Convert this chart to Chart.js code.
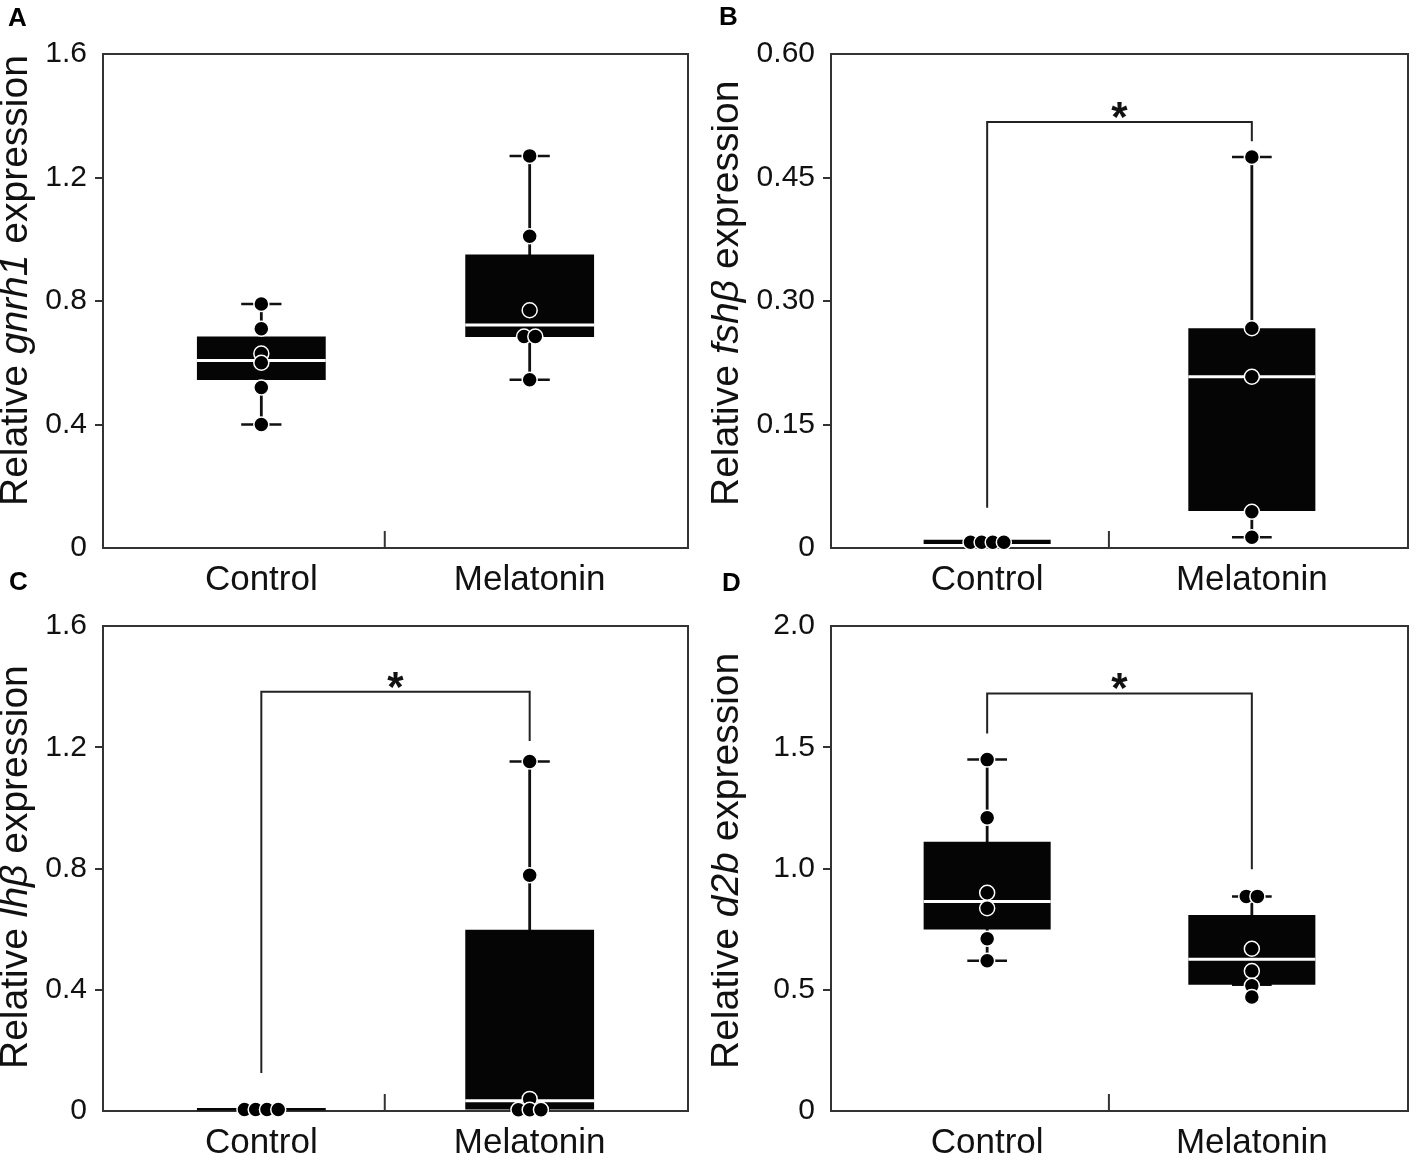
<!DOCTYPE html>
<html><head><meta charset="utf-8">
<script src="https://cdn.jsdelivr.net/npm/chart.js@4.4.1/dist/chart.umd.min.js"></script>
<style>
html,body{margin:0;padding:0;background:#fff;width:1417px;height:1161px;overflow:hidden;position:relative;}
canvas.panel{position:absolute;}
.letter{position:absolute;font:bold 26px "Liberation Sans",Arial,sans-serif;line-height:26px;color:#000;z-index:2;}
</style></head><body>
<div class="letter" style="left:8px;top:4px">A</div>
<div class="letter" style="left:719px;top:3px">B</div>
<div class="letter" style="left:9px;top:568px">C</div>
<div class="letter" style="left:722px;top:569px">D</div>
<canvas id="cA" class="panel" style="left:0px;top:0px;width:700px;height:600px" width="700" height="600"></canvas>
<canvas id="cB" class="panel" style="left:711px;top:0px;width:706px;height:600px" width="706" height="600"></canvas>
<canvas id="cC" class="panel" style="left:0px;top:600px;width:700px;height:561px" width="700" height="561"></canvas>
<canvas id="cD" class="panel" style="left:711px;top:600px;width:706px;height:561px" width="706" height="561"></canvas>
<script>
// ---------------- DATA ----------------
const categories = ['Control', 'Melatonin'];

// Panel A: gnrh1
const gnrh1Control   = [0.79, 0.71, 0.63, 0.60, 0.52, 0.40];
const gnrh1Melatonin = [1.27, 1.01, 0.77, 0.685, 0.685, 0.545];
// box stats: [whiskerLow, q1, median, q3, whiskerHigh]
const gnrh1BoxControl   = [0.40, 0.544, 0.607, 0.685, 0.79];
const gnrh1BoxMelatonin = [0.545, 0.683, 0.722, 0.951, 1.27];
const gnrh1Ticks = [0, 0.4, 0.8, 1.2, 1.6];
const gnrh1TickLabels = ['0', '0.4', '0.8', '1.2', '1.6'];

// Panel B: fshβ
const fshbControl   = [0.007, 0.007, 0.007, 0.007];
const fshbMelatonin = [0.475, 0.267, 0.208, 0.044, 0.013];
const fshbBoxControl   = [0.005, 0.005, null, 0.010, 0.010];
const fshbBoxMelatonin = [0.013, 0.045, 0.208, 0.267, 0.475];
const fshbBracket = [0.049, 0.5175, 0.494];   // left leg start, top, right leg end
const fshbTicks = [0, 0.15, 0.30, 0.45, 0.60];
const fshbTickLabels = ['0', '0.15', '0.30', '0.45', '0.60'];

// Panel C: lhβ
const lhbControl   = [0.005, 0.005, 0.005, 0.005];
const lhbMelatonin = [1.153, 0.778, 0.040, 0.004, 0.004, 0.004];
const lhbBoxControl   = [0.002, 0.002, null, 0.010, 0.010];
const lhbBoxMelatonin = [0.005, 0.005, 0.034, 0.598, 1.153];
const lhbBracket = [0.125, 1.383, 1.221];
const lhbTicks = [0, 0.4, 0.8, 1.2, 1.6];
const lhbTickLabels = ['0', '0.4', '0.8', '1.2', '1.6'];

// Panel D: d2b
const d2bControl   = [1.449, 1.209, 0.90, 0.836, 0.71, 0.62];
const d2bMelatonin = [0.885, 0.885, 0.669, 0.577, 0.516, 0.47];
const d2bBoxControl   = [0.62, 0.748, 0.864, 1.110, 1.449];
const d2bBoxMelatonin = [0.521, 0.521, 0.626, 0.808, 0.885];
const d2bBracket = [1.557, 1.722, 0.997];
const d2bTicks = [0, 0.5, 1.0, 1.5, 2.0];
const d2bTickLabels = ['0', '0.5', '1.0', '1.5', '2.0'];

// ---------------- STYLE / LAYOUT ----------------
const FONT = '"Liberation Sans", Arial, Helvetica, sans-serif';
const TEXT = '#111111';
const AXIS = '#333333';
const X_MIN = 0.41, X_MAX = 2.59, MID_TICK = 1.46;
const BOX_HALF = 0.24, CAP_HALF = 0.075, SPACING = 0.042;

Chart.defaults.font.family = FONT;
Chart.defaults.color = TEXT;

const panels = [
  {id:'cA', ptsCtrl:gnrh1Control, ptsMel:gnrh1Melatonin, boxCtrl:gnrh1BoxControl, boxMel:gnrh1BoxMelatonin,
   bracket:null, ticks:gnrh1Ticks, labels:gnrh1TickLabels, title:[['Relative ',false],['gnrh1',true],[' expression',false]],
   yW:103, padTop:54, padRight:12, xH:52},
  {id:'cB', ptsCtrl:fshbControl, ptsMel:fshbMelatonin, boxCtrl:fshbBoxControl, boxMel:fshbBoxMelatonin,
   bracket:fshbBracket, ticks:fshbTicks, labels:fshbTickLabels, title:[['Relative ',false],['fshβ',true],[' expression',false]],
   yW:120, padTop:54, padRight:2, xH:52},
  {id:'cC', ptsCtrl:lhbControl, ptsMel:lhbMelatonin, boxCtrl:lhbBoxControl, boxMel:lhbBoxMelatonin,
   bracket:lhbBracket, ticks:lhbTicks, labels:lhbTickLabels, title:[['Relative ',false],['lhβ',true],[' expression',false]],
   yW:103, padTop:17, padRight:12, xH:50},
  {id:'cD', ptsCtrl:d2bControl, ptsMel:d2bMelatonin, boxCtrl:d2bBoxControl, boxMel:d2bBoxMelatonin,
   bracket:d2bBracket, ticks:d2bTicks, labels:d2bTickLabels, title:[['Relative ',false],['d2b',true],[' expression',false]],
   yW:120, padTop:18, padRight:2, xH:50}
];

function buildDatasets(p) {
  const X = [1, 2];
  const boxes = [p.boxCtrl, p.boxMel];
  const pts = [p.ptsCtrl, p.ptsMel];
  const ds = [];
  // points (beeswarm dodge for identical values)
  const pointData = [];
  pts.forEach((vals, g) => {
    const counts = {}, seen = {};
    vals.forEach(v => counts[v] = (counts[v] || 0) + 1);
    vals.forEach(v => {
      const n = counts[v];
      const k = seen[v] = (seen[v] === undefined ? 0 : seen[v] + 1);
      pointData.push({x: X[g] + (k - (n - 1) / 2) * SPACING, y: v});
    });
  });
  ds.push({type:'scatter', data:pointData, pointRadius:7.5, pointHoverRadius:7.5,
    pointBackgroundColor:'#000', pointBorderColor:'#fff', pointBorderWidth:1.5, showLine:false, clip:false});
  // medians
  boxes.forEach((b, g) => {
    if (b[2] !== null) ds.push({type:'line', data:[{x:X[g]-BOX_HALF, y:b[2]}, {x:X[g]+BOX_HALF, y:b[2]}],
      borderColor:'#fff', borderWidth:3, pointRadius:0, tension:0});
  });
  // boxes (floating bars q1..q3)
  ds.push({type:'bar', data: boxes.map((b, g) => ({x:X[g], y:[b[1], b[3]]})),
    backgroundColor:'#050505', borderWidth:0, barPercentage:BOX_HALF*2, categoryPercentage:1});
  // caps
  boxes.forEach((b, g) => {
    ds.push({type:'line', data:[{x:X[g]-CAP_HALF, y:b[0]}, {x:X[g]+CAP_HALF, y:b[0]}, {x:X[g], y:null},
      {x:X[g]-CAP_HALF, y:b[4]}, {x:X[g]+CAP_HALF, y:b[4]}],
      borderColor:'#111', borderWidth:2.5, pointRadius:0, spanGaps:false, tension:0});
  });
  // whiskers
  boxes.forEach((b, g) => {
    ds.push({type:'line', data:[{x:X[g], y:b[0]}, {x:X[g], y:b[4]}],
      borderColor:'#111', borderWidth:2.8, pointRadius:0, tension:0});
  });
  // significance bracket
  if (p.bracket) {
    const br = p.bracket;
    ds.push({type:'line', data:[{x:1, y:br[0]}, {x:1, y:br[1]}, {x:2, y:br[1]}, {x:2, y:br[2]}],
      borderColor:'#222', borderWidth:2, pointRadius:0, tension:0});
  }
  return ds;
}

function decorPlugin(p) {
  return {
    id: 'decor_' + p.id,
    beforeDatasetsDraw(chart) {
      const {ctx, chartArea:a, scales:{x}} = chart;
      ctx.save();
      ctx.strokeStyle = AXIS; ctx.lineWidth = 2;
      ctx.strokeRect(a.left, a.top, a.right - a.left, a.bottom - a.top);
      const mx = x.getPixelForValue(MID_TICK);
      ctx.beginPath(); ctx.moveTo(mx, a.bottom); ctx.lineTo(mx, a.bottom - 17); ctx.stroke();
      ctx.restore();
    },
    afterDraw(chart) {
      const {ctx, chartArea:a, scales:{x, y}} = chart;
      ctx.save();
      ctx.fillStyle = TEXT;
      ctx.textBaseline = 'alphabetic'; ctx.textAlign = 'left';
      ctx.translate(27, a.bottom - 42);
      ctx.rotate(-Math.PI / 2);
      let cx = 0;
      p.title.forEach(([t, it]) => {
        ctx.font = (it ? 'italic ' : '') + '39px ' + FONT;
        ctx.fillText(t, cx, 0);
        cx += ctx.measureText(t).width;
      });
      ctx.restore();
      if (p.bracket) {
        ctx.save();
        ctx.fillStyle = '#111';
        ctx.font = 'bold 42px ' + FONT;
        ctx.textAlign = 'center'; ctx.textBaseline = 'alphabetic';
        const m = ctx.measureText('*');
        const cy = y.getPixelForValue(p.bracket[1]) - 12;
        const base = cy + (m.actualBoundingBoxAscent - m.actualBoundingBoxDescent) / 2;
        ctx.fillText('*', x.getPixelForValue(1.5), base);
        ctx.restore();
      }
    }
  };
}

panels.forEach(p => {
  const ticks = p.ticks, labels = p.labels, last = ticks.length - 1;
  new Chart(document.getElementById(p.id), {
    type: 'bar',
    data: { datasets: buildDatasets(p) },
    options: {
      responsive: false, animation: false, devicePixelRatio: 1,
      layout: { padding: { left: 0, top: p.padTop, right: p.padRight, bottom: 0 } },
      plugins: { legend: {display:false}, tooltip: {enabled:false} },
      scales: {
        x: {
          type: 'linear', min: X_MIN, max: X_MAX, offset: false,
          afterBuildTicks: s => { s.ticks = [{value:1}, {value:2}]; },
          afterFit: s => { s.height = p.xH; },
          ticks: { callback: (v, i) => categories[i], font: {size: 35}, color: TEXT, padding: 11, autoSkip: false, maxRotation: 0 },
          grid: { display: false, drawTicks: false },
          border: { display: true, color: AXIS, width: 2 }
        },
        y: {
          type: 'linear', min: ticks[0], max: ticks[last],
          afterBuildTicks: s => { s.ticks = ticks.map(v => ({value: v})); },
          afterFit: s => { s.width = p.yW; },
          ticks: { callback: (v, i) => labels[i], font: {size: 30}, color: TEXT, padding: 8 },
          grid: { drawOnChartArea: false, drawTicks: true, tickLength: 8, lineWidth: 2,
                  color: c => (c.index === 0 || c.index === last) ? 'rgba(0,0,0,0)' : AXIS },
          border: { display: true, color: AXIS, width: 2 }
        }
      }
    },
    plugins: [decorPlugin(p)]
  });
});
</script>
</body></html>
